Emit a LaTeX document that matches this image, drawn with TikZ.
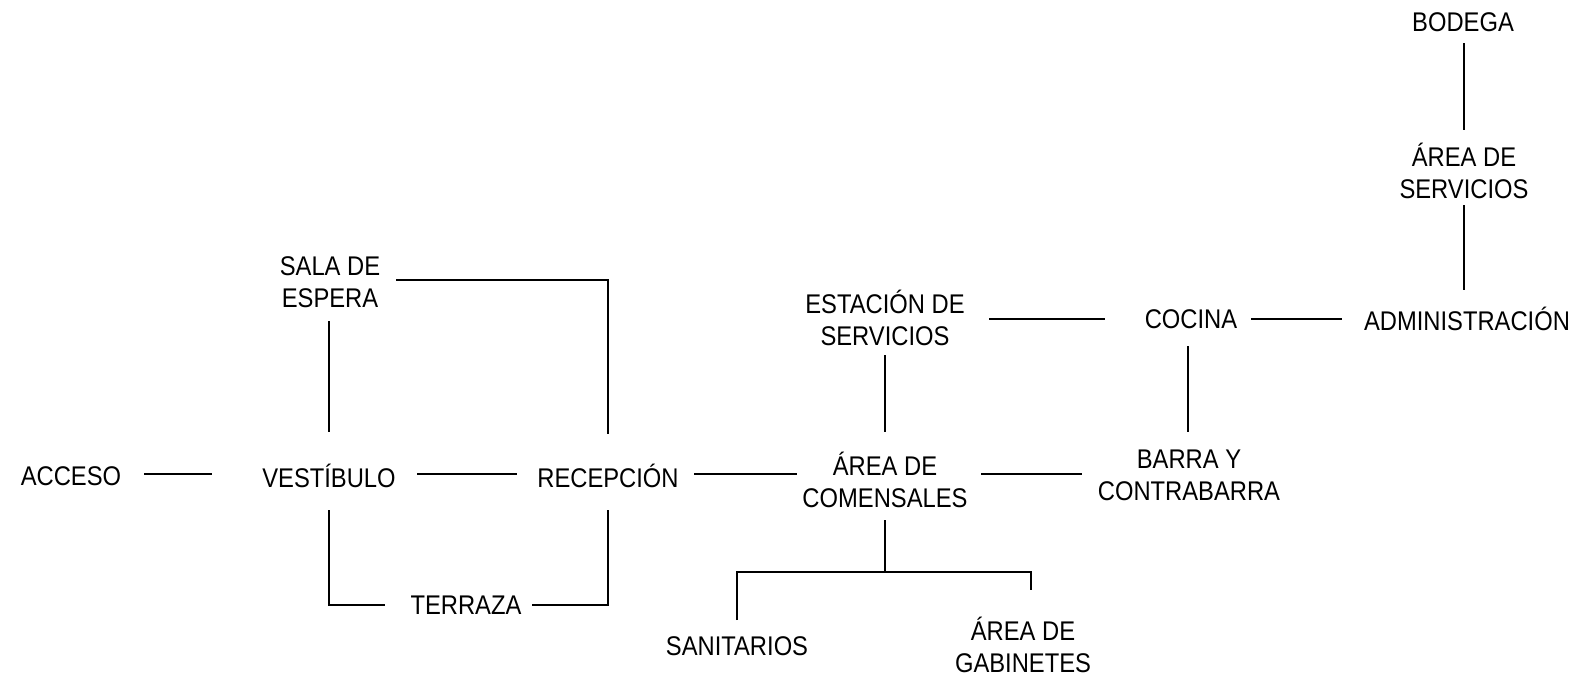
\documentclass[tikz,border=0pt]{standalone}
\usepackage{fontspec}
\setmainfont[FakeStretch=0.88]{Liberation Sans}
\usetikzlibrary{calc}
\begin{document}
\begin{tikzpicture}[x=1pt,y=-1pt,
  lbl/.style={inner sep=0pt,align=center,font=\fontsize{27}{32}\selectfont},
  conn/.style={line width=2pt,line join=miter}]
\useasboundingbox (0,0) rectangle (1582,676);
\node[lbl] (bodega) at (1463,22) {BODEGA};
\node[lbl] (aserv) at (1464,171) {ÁREA DE\\SERVICIOS};
\node[lbl] (admin) at (1467,319) {ADMINISTRACIÓN};
\node[lbl] (cocina) at (1191,319) {COCINA};
\node[lbl] (estacion) at (885,318) {ESTACIÓN DE\\SERVICIOS};
\node[lbl] (comens) at (885,480) {ÁREA DE\\COMENSALES};
\node[lbl] (barra) at (1189,475) {BARRA Y\\CONTRABARRA};
\node[lbl] (acceso) at (71,476) {ACCESO};
\node[lbl] (vest) at (329,476) {VESTÍBULO};
\node[lbl] (recep) at (608,476) {RECEPCIÓN};
\node[lbl] (sala) at (330,282) {SALA DE\\ESPERA};
\node[lbl] (terraza) at (466,605) {TERRAZA};
\node[lbl] (sanit) at (737,646) {SANITARIOS};
\node[lbl] (gabin) at (1023,645) {ÁREA DE\\GABINETES};
\coordinate (fork) at ($(comens)+(0,92)$);

\draw[conn] ($(acceso)+(73,-2)$) -- ($(vest)+(-117,-2)$);
\draw[conn] ($(vest)+(88,-2)$) -- ($(recep)+(-91,-2)$);
\draw[conn] ($(recep)+(86,-2)$) -- ($(comens)+(-88,-6)$);
\draw[conn] ($(comens)+(96,-6)$) -- ($(barra)+(-107,-1)$);
\draw[conn] ($(estacion)+(104,1)$) -- ($(cocina)+(-86,0)$);
\draw[conn] ($(cocina)+(60,0)$) -- ($(admin)+(-125,0)$);
\draw[conn] ($(admin)+(-3,-29)$) -- ($(aserv)+(0,34)$);
\draw[conn] ($(aserv)+(0,-41)$) -- ($(bodega)+(1,21)$);
\draw[conn] ($(cocina)+(-3,27)$) -- ($(barra)+(-1,-43)$);
\draw[conn] ($(estacion)+(0,37)$) -- ($(comens)+(0,-48)$);
\draw[conn] ($(comens)+(0,40)$) -- (fork);
\draw[conn] ($(sanit)+(0,-26)$) |- (fork) -| ($(gabin)+(8,-55)$);
\draw[conn] ($(sala)+(66,-2)$) -| ($(recep)+(0,-42)$);
\draw[conn] ($(sala)+(-1,39)$) -- ($(vest)+(0,-44)$);
\draw[conn] ($(vest)+(0,34)$) |- ($(terraza)+(-81,0)$);
\draw[conn] ($(terraza)+(66,0)$) -| ($(recep)+(0,34)$);
\end{tikzpicture}
\end{document}
